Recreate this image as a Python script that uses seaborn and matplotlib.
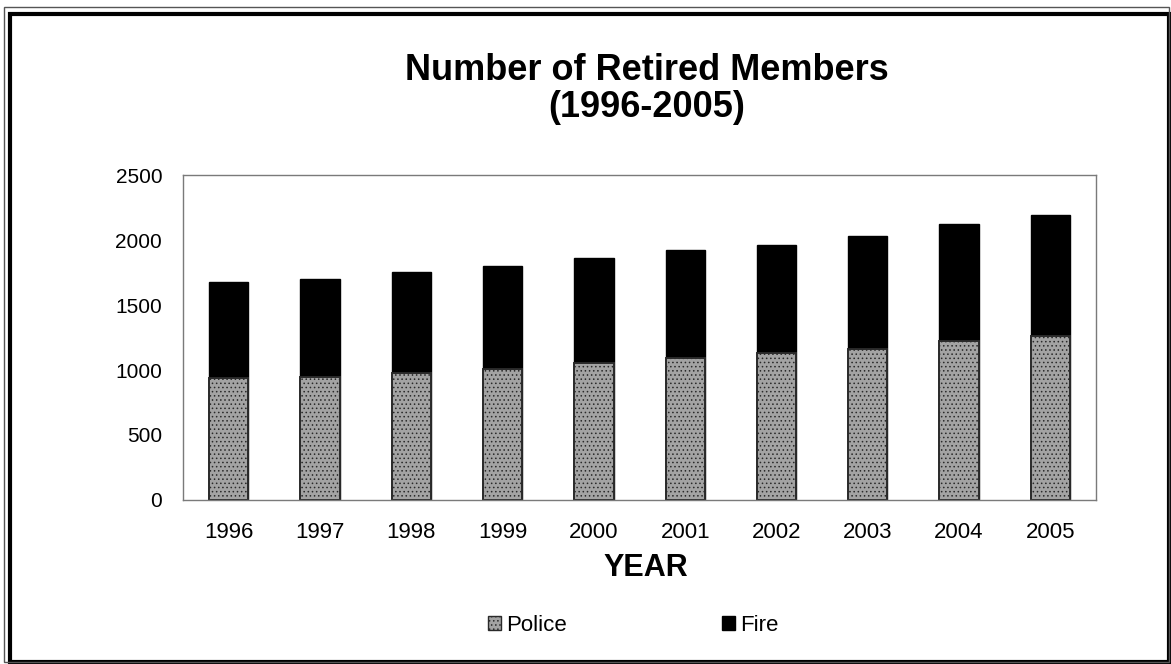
import numpy as np
import pandas as pd
import matplotlib
matplotlib.use('Agg')
import matplotlib.pyplot as plt
import seaborn as sns
from matplotlib.patches import Patch, Rectangle

# data
years = ['1996', '1997', '1998', '1999', '2000', '2001', '2002', '2003', '2004', '2005']
police = [940, 950, 980, 1010, 1055, 1090, 1130, 1160, 1220, 1265]
fire = [740, 750, 775, 790, 805, 835, 835, 870, 900, 925]
y_ticks = [0, 500, 1000, 1500, 2000, 2500]

df = pd.DataFrame({'year': years, 'Police': police, 'Fire': fire})
df['total'] = df['Police'] + df['Fire']

sns.set_style('white')
plt.rcParams['font.family'] = ['Liberation Sans', 'DejaVu Sans']
plt.rcParams['hatch.linewidth'] = 0.6
for key in ['text.color', 'xtick.color', 'ytick.color', 'axes.labelcolor']:
    plt.rcParams[key] = 'black'

fig = plt.figure(figsize=(11.71, 6.64), dpi=100)
ax = fig.add_axes([0.1563, 0.247, 0.7797, 0.4894])

# stacked bars: total (black) first, police drawn over the bottom part
sns.barplot(data=df, x='year', y='total', color='black', saturation=1,
            width=0.43, edgecolor='black', linewidth=1, ax=ax)
sns.barplot(data=df, x='year', y='Police', color='#a3a3a3', saturation=1,
            width=0.43, edgecolor='#2a2a2a', linewidth=1.4, hatch='....', ax=ax)

ax.set_ylim(0, 2500)
ax.set_xlim(-0.5, len(years) - 0.5)
ax.set_yticks(y_ticks)
ax.set_yticklabels([str(t) for t in y_ticks])
ax.tick_params(axis='y', length=0, pad=15, labelsize=15, labelcolor='black')
ax.tick_params(axis='x', length=0, pad=16, labelsize=16, labelcolor='black')
ax.set_xlabel('')
ax.set_ylabel('')
for sp in ax.spines.values():
    sp.set_visible(True)
    sp.set_color('#7a7a7a')
    sp.set_linewidth(1.0)
    sp.set_linestyle((0, (2, 1)))

# title, axis label
fig.text(0.5525, 0.8795, 'Number of Retired Members', ha='center', va='baseline',
         fontsize=26, fontweight='bold', color='black')
fig.text(0.5525, 0.8238, '(1996-2005)', ha='center', va='baseline',
         fontsize=26, fontweight='bold', color='black')
fig.text(0.5517, 0.1325, 'YEAR', ha='center', va='baseline',
         fontsize=22, fontweight='bold', color='black')

handles = [Patch(facecolor='#a3a3a3', edgecolor='#2a2a2a', hatch='....', label='Police'),
           Patch(facecolor='black', edgecolor='black', label='Fire')]
fig.legend(handles=handles, loc='center', bbox_to_anchor=(0.5406, 0.0587), ncol=2,
           frameon=False, fontsize=16, handlelength=0.6, handleheight=0.6,
           handletextpad=0.2, columnspacing=7, labelcolor='black')

# outer frame around the whole chart
fig.patches.append(Rectangle((10 / 1171, 2 / 664), 1159 / 1171, 648 / 664,
                             transform=fig.transFigure, fill=False,
                             edgecolor='black', linewidth=3))
fig.patches.append(Rectangle((4 / 1171, 2 / 664), 1165 / 1171, 655 / 664,
                             transform=fig.transFigure, fill=False,
                             edgecolor='#555555', linewidth=1))

fig.savefig('out.png', dpi=100)
